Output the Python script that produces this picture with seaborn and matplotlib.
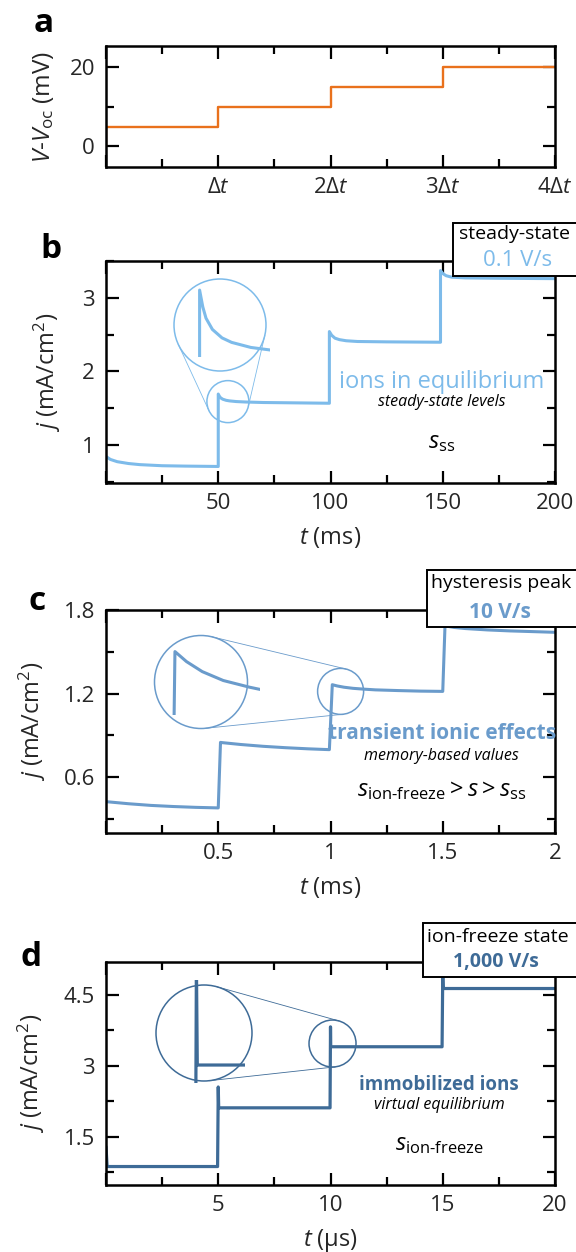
import numpy as np
import matplotlib
matplotlib.use('Agg')
import matplotlib.pyplot as plt
import seaborn as sns
from matplotlib.patches import Circle, Rectangle
from matplotlib.ticker import MultipleLocator, FixedLocator, FixedFormatter

W, H = 576, 1252

# --- panel a: applied voltage steps (time in units of dt) ---
t_a = [0, 0, 1, 1, 2, 2, 3, 3, 4]
v_a = [0, 5, 5, 10, 10, 15, 15, 20, 20]
a_ticks = ['', 'Δ$t$', '2Δ$t$', '3Δ$t$', '4Δ$t$']

# --- panel b: 0.1 V/s, t in ms ---
t_b = [0, 2, 5, 10, 15, 25, 35, 50,
       50, 50.5, 51, 52, 53.5, 55, 58, 62, 70, 85, 99.5,
       99.5, 100.5, 102, 104, 107, 112, 125, 149,
       149, 150, 151.5, 154, 160, 175, 200]
j_b = [0.84, 0.80, 0.77, 0.745, 0.73, 0.715, 0.71, 0.705,
       1.69, 1.66, 1.64, 1.62, 1.605, 1.597, 1.588, 1.582, 1.575, 1.57, 1.565,
       2.54, 2.49, 2.45, 2.43, 2.415, 2.405, 2.40, 2.395,
       3.37, 3.33, 3.30, 3.28, 3.27, 3.265, 3.26]

# --- panel c: 10 V/s, t in ms ---
t_c = [0, 0.1, 0.2, 0.3, 0.4, 0.5,
       0.51, 0.52, 0.6, 0.7, 0.8, 0.9, 0.995,
       1.008, 1.03, 1.06, 1.1, 1.15, 1.2, 1.3, 1.4, 1.5,
       1.51, 1.55, 1.6, 1.7, 1.8, 1.9, 2.0]
j_c = [0.425, 0.41, 0.398, 0.39, 0.384, 0.38,
       0.85, 0.848, 0.835, 0.822, 0.812, 0.804, 0.798,
       1.264, 1.255, 1.246, 1.238, 1.232, 1.227, 1.222, 1.218, 1.216,
       1.686, 1.675, 1.667, 1.657, 1.65, 1.645, 1.64]

# --- panel d: 1,000 V/s, t in us ---
t_d = [0, 0.05, 4.97, 5.0, 5.02, 9.98, 10.0, 10.01, 14.97, 15.0, 15.02, 20]
j_d = [1.29, 0.87, 0.87, 2.55, 2.11, 2.11, 3.82, 3.40, 3.40, 4.93, 4.63, 4.63]

ORANGE = '#E9711C'
COL_B = '#7DBBEA'
COL_C = '#6A9BCB'
COL_D = '#3E6B97'

sns.set_theme(style='ticks')
plt.rcParams['font.family'] = ['Open Sans', 'DejaVu Sans']
plt.rcParams.update({
    'mathtext.fontset': 'custom',
    'mathtext.rm': 'Open Sans',
    'mathtext.it': 'Open Sans:italic',
    'mathtext.bf': 'Open Sans:bold',
    'axes.linewidth': 1.8,
    'axes.edgecolor': 'black',
    'text.color': 'black',
})

fig = plt.figure(figsize=(W / 100, H / 100), dpi=100)


def add_axes_px(x0, y0, x1, y1):
    return fig.add_axes([x0 / W, 1 - y1 / H, (x1 - x0) / W, (y1 - y0) / H])


def style_axes(ax, xmaj, xlabels, xminor, ymaj, ylabels, ymin_step):
    ax.xaxis.set_major_locator(FixedLocator(xmaj))
    ax.xaxis.set_major_formatter(FixedFormatter(xlabels))
    ax.xaxis.set_minor_locator(MultipleLocator(xminor))
    ax.yaxis.set_major_locator(FixedLocator(ymaj))
    ax.yaxis.set_major_formatter(FixedFormatter(ylabels))
    ax.yaxis.set_minor_locator(MultipleLocator(ymin_step))
    ax.tick_params(which='both', direction='in', top=True, right=True,
                   width=1.6, color='black', labelsize=16)
    ax.tick_params(which='major', length=9)
    ax.tick_params(which='minor', length=6)
    ax.tick_params(axis='x', pad=7)
    ax.tick_params(axis='y', pad=8)
    for sp in ax.spines.values():
        sp.set_visible(True)
        sp.set_linewidth(1.8)


# panel a
ax_a = add_axes_px(106, 46, 555, 167)
sns.lineplot(x=t_a, y=v_a, ax=ax_a, color=ORANGE, lw=1.7, estimator=None, sort=False)
ax_a.set_xlim(0, 4)
ax_a.set_ylim(-5.2, 25.4)
style_axes(ax_a, [0, 1, 2, 3, 4], a_ticks, 0.5, [0, 20], ['0', '20'], 10)
ax_a.set_ylabel(r'$V$-$V_\mathrm{oc}$ (mV)', fontsize=17.5)
ax_a.yaxis.set_label_coords(-0.112, 0.5)

# panel b
ax_b = add_axes_px(106, 261, 555, 483)
sns.lineplot(x=t_b, y=j_b, ax=ax_b, color=COL_B, lw=2.2, estimator=None, sort=False)
ax_b.set_xlim(0, 200)
ax_b.set_ylim(0.48, 3.5)
style_axes(ax_b, [0, 50, 100, 150, 200], ['', '50', '100', '150', '200'], 25,
           [1, 2, 3], ['1', '2', '3'], 0.5)

# panel c
ax_c = add_axes_px(106, 610, 555, 833)
sns.lineplot(x=t_c, y=j_c, ax=ax_c, color=COL_C, lw=2.2, estimator=None, sort=False)
ax_c.set_xlim(0, 2)
ax_c.set_ylim(0.2, 1.8)
style_axes(ax_c, [0, 0.5, 1, 1.5, 2], ['', '0.5', '1', '1.5', '2'], 0.25,
           [0.6, 1.2, 1.8], ['0.6', '1.2', '1.8'], 0.3)

# panel d
ax_d = add_axes_px(106, 962, 555, 1185)
sns.lineplot(x=t_d, y=j_d, ax=ax_d, color=COL_D, lw=2.3, estimator=None, sort=False)
ax_d.set_xlim(0, 20)
ax_d.set_ylim(0.48, 5.19)
style_axes(ax_d, [0, 5, 10, 15, 20], ['', '5', '10', '15', '20'], 2.5,
           [1.5, 3, 4.5], ['1.5', '3', '4.5'], 0.75)

for ax, lx, unit in [(ax_b, -0.096, 'ms'), (ax_c, -0.129, 'ms'), (ax_d, -0.131, 'μs')]:
    ax.set_ylabel(r'$j$ (mA/cm$^2$)', fontsize=17)
    ax.yaxis.set_label_coords(lx, 0.5)
    ax.set_xlabel(r'$t$ (' + unit + ')', fontsize=17)
    ax.xaxis.set_label_coords(0.5, -0.19)

# overlay in image pixel coordinates for zoom circles and label boxes
ov = fig.add_axes([0, 0, 1, 1])
ov.set_xlim(0, W)
ov.set_ylim(H, 0)
ov.set_axis_off()


def add_zoom(ax, t, j, color, lw, center, r_small, big, r_big, box, xlim, ylim):
    ins = add_axes_px(*box)
    ins.set_axis_off()
    sns.lineplot(x=t, y=j, ax=ins, color=color, lw=lw, estimator=None, sort=False)
    ins.set_xlim(xlim)
    ins.set_ylim(ylim)
    cx, cy = ax.transData.transform(center)
    cy = H - cy
    bx, by = big
    ov.add_patch(Circle((cx, cy), r_small, fill=False, ec=color, lw=1.1))
    ov.add_patch(Circle((bx, by), r_big, fill=False, ec=color, lw=1.1))
    dx, dy = cx - bx, cy - by
    L = np.hypot(dx, dy)
    base = np.arctan2(dy, dx)
    phi = np.arccos((r_big - r_small) / L)
    for s in (1, -1):
        a = base + s * phi
        n = np.array([np.cos(a), np.sin(a)])
        p1 = np.array([bx, by]) + r_big * n
        p2 = np.array([cx, cy]) + r_small * n
        ov.plot([p1[0], p2[0]], [p1[1], p2[1]], color=color, lw=0.6)


add_zoom(ax_b, t_b, j_b, COL_B, 2.2, (54.3, 1.587), 21, (220, 325), 46,
         (174, 285, 270, 357), (46, 61), (1.571, 1.699))
add_zoom(ax_c, t_c, j_c, COL_C, 2.2, (1.045, 1.216), 23, (201, 682), 46.5,
         (155, 636, 260, 715), (0.97, 1.17), (1.207, 1.278))
add_zoom(ax_d, t_d, j_d, COL_D, 2.3, (10.09, 3.468), 23.5, (204, 1033), 48,
         (156, 980, 245, 1083), (9.546, 10.546), (3.326, 3.75))

# annotations inside the panels
notes = [
    (ax_b, COL_B, 'ions in equilibrium', 'steady-state levels', r'$s_\mathrm{ss}$',
     0.748, (0.455, 0.365, 0.185), 'normal', 17),
    (ax_c, COL_C, 'transient ionic effects', 'memory-based values',
     r'$s_\text{ion-freeze} > s > s_\mathrm{ss}$', 0.748, (0.444, 0.345, 0.193), 'bold', 15),
    (ax_d, COL_D, 'immobilized ions', 'virtual equilibrium', r'$s_\text{ion-freeze}$',
     0.742, (0.448, 0.359, 0.184), 'bold', 13.5),
]
for ax, col, head, sub, sym, xf, ys, wt, fs in notes:
    ax.text(xf, ys[0], head, transform=ax.transAxes, ha='center', va='center',
            color=col, fontsize=fs, fontweight=wt)
    ax.text(xf, ys[1], sub, transform=ax.transAxes, ha='center', va='center',
            fontsize=11.5, style='italic')
    ax.text(xf, ys[2], sym, transform=ax.transAxes, ha='center', va='center',
            fontsize=17)

# rate boxes at the top right
boxes = [
    (453, 223, 276, 'steady-state', '0.1 V/s', COL_B, 'normal', 16, 514, 234, 518, 260),
    (427, 570, 627, 'hysteresis peak', '10 V/s', COL_C, 'bold', 15, 501, 583, 500, 612),
    (423, 923, 977, 'ion-freeze state', '1,000 V/s', COL_D, 'bold', 14, 498, 937, 496, 962),
]
for x0, y0, y1, l1, l2, col, wt, fs, x1t, y1t, x2t, y2t in boxes:
    ov.add_patch(Rectangle((x0, y0), W + 5 - x0, y1 - y0, fc='white', ec='black', lw=1.4))
    ov.text(x1t, y1t, l1, ha='center', va='center', fontsize=14)
    ov.text(x2t, y2t, l2, ha='center', va='center', fontsize=fs, color=col, fontweight=wt)

# panel letters
for letter, x, y in [('a', 44, 23), ('b', 51, 250), ('c', 37, 602), ('d', 31, 957)]:
    ov.text(x, y, letter, ha='center', va='center', fontsize=24, fontweight='bold')

fig.savefig('out.png', dpi=100)
